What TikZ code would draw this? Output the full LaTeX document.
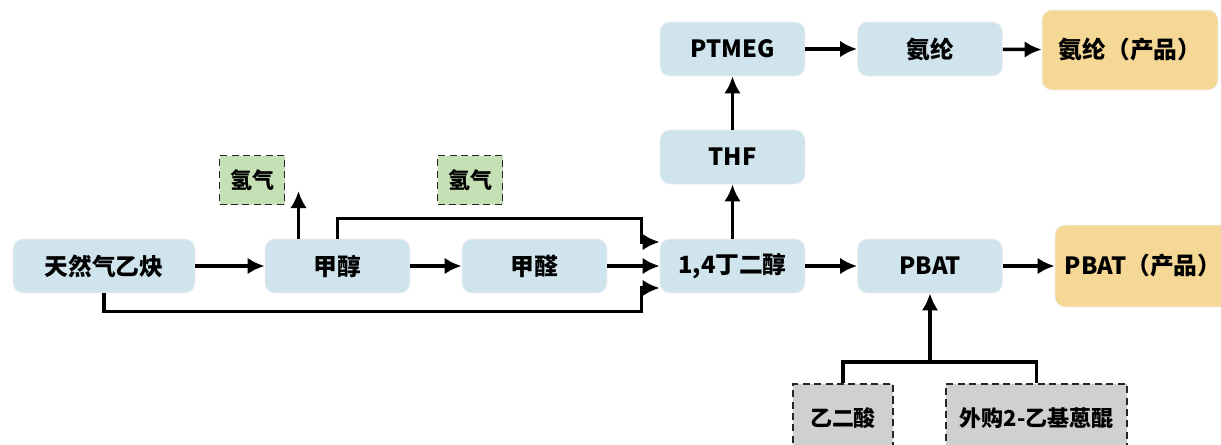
\documentclass[tikz,border=0pt]{standalone}
\usepackage{fontspec}
\setmainfont{Noto Sans CJK SC}
\usetikzlibrary{arrows.meta}

\definecolor{procblue}{RGB}{207,228,236}
\definecolor{prodorange}{RGB}{246,216,150}
\definecolor{gasgreen}{RGB}{197,224,180}
\definecolor{buygray}{RGB}{208,208,208}

\tikzset{
  proc/.style={fill=procblue, draw=black!6, rounded corners=0.2cm, minimum width=2.9cm, minimum height=1.08cm, font=\fontsize{13.5}{15}\selectfont\bfseries},
  prod/.style={proc, fill=prodorange, minimum width=3.52cm, minimum height=1.6cm},
  side/.style={draw=black!85, dash pattern=on 4pt off 2.5pt, line width=1.1pt, minimum height=0.98cm, minimum width=1.3cm, font=\fontsize{12.5}{14}\selectfont\bfseries},
  flow/.style={line width=2pt, -{Latex[length=3.4mm,width=3.3mm]}}
}

\begin{document}
\begin{tikzpicture}

\useasboundingbox (0,0) rectangle (24.42,8.88);

% Ligne principale
\node[proc, minimum width=3.64cm] (gas) at (2.08,3.56) {天然气乙炔};
\node[proc] (meth) at (6.75,3.56) {甲醇};
\node[proc] (form) at (10.69,3.56) {甲醛};
\node[proc] (bdo) at (14.65,3.56) {1,4丁二醇};
\node[proc] (pbat) at (18.6,3.56) {PBAT};
\node[prod, minimum height=1.64cm] (pbatprod) at (22.86,3.56) {PBAT（产品）};

% Branche THF
\node[proc] (thf) at (14.65,5.74) {THF};
\node[proc] (ptmeg) at (14.65,7.9) {PTMEG};
\node[proc] (span) at (18.6,7.9) {氨纶};
\node[prod] (spanprod) at (22.6,7.88) {氨纶（产品）};

% Hydrogene
\node[side, fill=gasgreen] (hyda) at (5.04,5.28) {氢气};
\node[side, fill=gasgreen] (hydb) at (9.4,5.28) {氢气};

% Achats
\node[side, fill=buygray, minimum width=2.0cm, minimum height=1.36cm] (oxal) at (16.86,0.52) {乙二酸};
\node[side, fill=buygray, minimum width=3.62cm, minimum height=1.36cm] (anth) at (20.73,0.52) {外购2-乙基蒽醌};

\coordinate (hydout) at (5.97,5.06);
\coordinate (join) at (18.6,1.64);

% Fleches
\draw[flow] (gas) -- (meth);
\draw[flow] (meth) -- (form);
\draw[flow] (form) -- (bdo);
\draw[flow] (bdo) -- (pbat);
\draw[flow] (pbat) -- (pbatprod);
\draw[flow] (bdo) -- (thf);
\draw[flow] (thf) -- (ptmeg);
\draw[flow] (ptmeg) -- (span);
\draw[flow] (span) -- (spanprod);
\draw[flow] (meth.north -| hydout) -- (hydout);

\draw[flow] (meth.north) -- ++(0,0.4) -| ([xshift=-0.36cm,yshift=0.48cm]bdo.west) -- ([yshift=0.48cm]bdo.west);
\draw[flow] (gas.south) -- ++(0,-0.36) -| ([xshift=-0.36cm,yshift=-0.44cm]bdo.west) -- ([yshift=-0.44cm]bdo.west);

\draw[line width=2pt] (oxal.north) |- (join) -| (anth.north);
\draw[flow] (join) -- (pbat);

\end{tikzpicture}
\end{document}
